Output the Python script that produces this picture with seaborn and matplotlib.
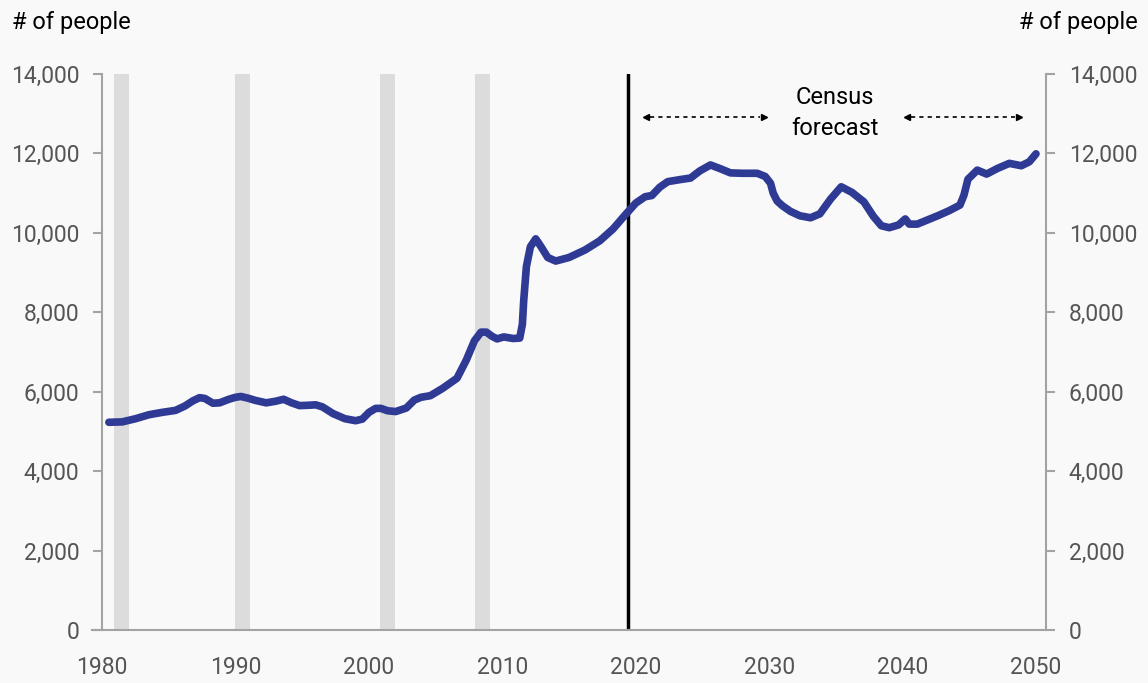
import numpy as np
import pandas as pd
import matplotlib
matplotlib.use('Agg')
import matplotlib.pyplot as plt
import seaborn as sns

# valores
anos = [1980.5, 1981.5, 1982.5, 1983.5, 1984.5, 1985.5, 1986.2, 1986.8, 1987.3, 1987.7,
        1988.3, 1988.8, 1989.5, 1990.0, 1990.4, 1990.9, 1991.5, 1992.3, 1993.0, 1993.6,
        1994.2, 1994.8, 1995.5, 1996.0, 1996.5, 1997.3, 1998.2, 1999.0, 1999.5, 2000.0,
        2000.5, 2000.9, 2001.4, 2002.0, 2002.8, 2003.4, 2003.9, 2004.6, 2005.5, 2006.6,
        2007.3, 2007.9, 2008.4, 2008.8, 2009.2, 2009.6, 2010.1, 2010.8, 2011.3, 2011.5,
        2011.6, 2011.8, 2012.1, 2012.5, 2012.9, 2013.4, 2014.0, 2015.0, 2016.2, 2017.3,
        2018.3, 2019.2, 2020.0, 2020.7, 2021.2, 2021.8, 2022.4, 2023.3, 2024.1, 2024.8,
        2025.6, 2026.3, 2027.1, 2028.0, 2029.1, 2029.7, 2030.1, 2030.3, 2030.6, 2031.0,
        2031.6, 2032.3, 2033.1, 2033.8, 2034.6, 2035.4, 2036.2, 2037.1, 2037.8, 2038.4,
        2039.0, 2039.7, 2040.2, 2040.5, 2041.1, 2041.9, 2042.7, 2043.5, 2044.3, 2044.6,
        2044.9, 2045.6, 2046.3, 2047.1, 2048.0, 2048.9, 2049.5, 2050.0]
pessoas = [5230, 5240, 5320, 5420, 5480, 5530, 5640, 5770, 5850, 5830,
           5710, 5720, 5810, 5860, 5880, 5840, 5780, 5720, 5760, 5810,
           5720, 5650, 5660, 5670, 5620, 5450, 5320, 5270, 5310, 5480,
           5580, 5580, 5520, 5500, 5590, 5790, 5860, 5900, 6080, 6340,
           6800, 7280, 7500, 7500, 7400, 7330, 7380, 7340, 7350, 7700,
           8300, 9150, 9650, 9850, 9650, 9380, 9290, 9380, 9570, 9800,
           10100, 10450, 10750, 10910, 10940, 11150, 11290, 11340, 11380, 11560,
           11710, 11620, 11510, 11500, 11500, 11420, 11250, 11000, 10800, 10680,
           10540, 10430, 10380, 10480, 10850, 11160, 11020, 10780, 10420, 10180,
           10130, 10200, 10350, 10220, 10220, 10330, 10440, 10560, 10700, 10950,
           11350, 11580, 11480, 11620, 11750, 11690, 11790, 11990]

# recessões (inicio, fim)
rec_inicio = [1980.9, 1989.95, 2000.8, 2007.95]
rec_fim = [1982.0, 1991.05, 2001.95, 2009.05]

ano_corte = 2019.4
anos_ticks = [1980, 1990, 2000, 2010, 2020, 2030, 2040, 2050]
y_ticks = [0, 2000, 4000, 6000, 8000, 10000, 12000, 14000]

df = pd.DataFrame({'ano': anos, 'pessoas': pessoas})

# =========================
# Estilo
# =========================
sns.set_theme(style='white')
plt.rcParams['font.family'] = ['Roboto', 'DejaVu Sans']
fundo = '#f9f9f9'
cinza = '#a3a3a3'
cor_txt = '#555555'

fig = plt.figure(figsize=(11.48, 6.83), dpi=100, facecolor=fundo)
ax = fig.add_axes([91.5 / 1148, 1 - 630 / 683, (1046 - 91.5) / 1148, 556 / 683])
ax.set_facecolor(fundo)

for a, b in zip(rec_inicio, rec_fim):
    ax.axvspan(a, b, color='#dcdcdc', lw=0, zorder=0)

ax.axvline(ano_corte, color='black', lw=2.5, zorder=2)

sns.lineplot(data=df, x='ano', y='pessoas', ax=ax, color='#2e3a94', lw=5.5,
             solid_capstyle='round', solid_joinstyle='round', zorder=3)

ax.set_xlim(1979.2, 2050.75)
ax.set_ylim(0, 14000)
ax.set_xticks(anos_ticks)
ax.set_yticks(y_ticks)
ax.set_yticklabels([f'{v:,}' for v in y_ticks])
ax.set_xlabel('')
ax.set_ylabel('')

for s in ['top', 'right']:
    ax.spines[s].set_visible(False)
ax.spines['left'].set_position(('data', 1980))
for s in ['left', 'bottom']:
    ax.spines[s].set_color(cinza)
    ax.spines[s].set_linewidth(1.5)
ax.tick_params(axis='both', direction='out', length=6.5, width=1.5, color=cinza,
               labelsize=16.5, labelcolor=cor_txt)
ax.tick_params(axis='y', pad=10)
ax.tick_params(axis='x', pad=12)

# eixo da direita
ax2 = ax.twinx()
ax2.set_ylim(0, 14000)
ax2.set_yticks(y_ticks)
ax2.set_yticklabels([f'{v:,}' for v in y_ticks])
for s in ['top', 'left', 'bottom']:
    ax2.spines[s].set_visible(False)
ax2.spines['right'].set_color(cinza)
ax2.spines['right'].set_linewidth(1.5)
ax2.tick_params(axis='y', direction='out', length=6.5, width=1.5, color=cinza,
                labelsize=16.5, labelcolor=cor_txt, pad=10)

# anotação da projeção
y_seta = 12920
for x0, x1 in [(2020.8, 2029.6), (2040.3, 2048.7)]:
    ax.plot([x0 + 0.3, x1 - 0.3], [y_seta, y_seta], color='black', lw=1.2, ls=(0, (2.5, 2.5)))
    ax.plot([x0], [y_seta], marker='<', color='black', ms=5)
    ax.plot([x1], [y_seta], marker='>', color='black', ms=5)
ax.text(2034.9, 13020, 'Census\nforecast', ha='center', va='center', fontsize=17,
        color='black', linespacing=1.45)

fig.text(12 / 1148, 1 - 22 / 683, '# of people', ha='left', va='center', fontsize=17, color='black')
fig.text(1138 / 1148, 1 - 22 / 683, '# of people', ha='right', va='center', fontsize=17, color='black')

fig.savefig('out.png', dpi=100, facecolor=fundo)
